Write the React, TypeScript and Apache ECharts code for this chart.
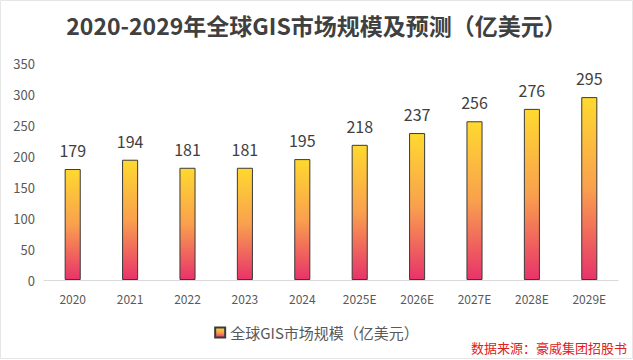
import React, { useEffect, useRef } from "react";
import * as echarts from "echarts";

const categories = ["2020", "2021", "2022", "2023", "2024", "2025E", "2026E", "2027E", "2028E", "2029E"];
const values = [179, 194, 181, 181, 195, 218, 237, 256, 276, 295];
const seriesName = "全球GIS市场规模（亿美元）";
const title = "2020-2029年全球GIS市场规模及预测（亿美元）";
const source = "数据来源：豪威集团招股书";

export default function App() {
  const ref = useRef<HTMLDivElement>(null);
  useEffect(() => {
    const chart = echarts.init(ref.current!, null, { renderer: "svg" });
    const grad = new echarts.graphic.LinearGradient(0, 0, 0, 1, [
      { offset: 0, color: "#FFD92F" },
      { offset: 0.5, color: "#F9A04E" },
      { offset: 1, color: "#E8336A" },
    ]);
    chart.setOption({
      animation: false,
      backgroundColor: "#ffffff",
      textStyle: { fontFamily: "'Noto Sans CJK SC', 'Open Sans', sans-serif" },
      title: {
        text: title,
        left: "center",
        top: 8,
        textStyle: { fontSize: 23, fontWeight: "bold", color: "#404040", fontFamily: "'Noto Sans CJK SC', sans-serif" },
      },
      legend: {
        bottom: 15,
        left: "center",
        icon: "rect",
        itemWidth: 10,
        itemHeight: 10,
        itemGap: 6,
        textStyle: { fontSize: 15, color: "#595959" },
        data: [seriesName],
      },
      grid: { left: 44, right: 15, top: 63, bottom: 80, containLabel: false },
      xAxis: {
        type: "category",
        data: categories,
        axisLine: { lineStyle: { color: "#d9d9d9", width: 1 } },
        axisTick: { show: false },
        axisLabel: { color: "#595959", fontSize: 12, margin: 12 },
      },
      yAxis: {
        type: "value",
        min: 0,
        max: 350,
        interval: 50,
        splitLine: { show: false },
        axisLine: { show: false },
        axisTick: { show: false },
        axisLabel: { color: "#595959", fontSize: 13, margin: 9 },
      },
      series: [
        {
          name: seriesName,
          type: "bar",
          data: values,
          barWidth: "28%",
          itemStyle: { color: grad, borderColor: "#3a3a3a", borderWidth: 1 },
          label: { show: true, position: "top", distance: 11, fontSize: 16, color: "#404040" },
        },
      ],
      graphic: [
        {
          type: "text",
          right: 6,
          bottom: 6,
          style: { text: source, fill: "#E02020", fontSize: 13, fontFamily: "'Noto Sans CJK SC', sans-serif" },
        },
        {
          type: "rect",
          shape: { x: 0.5, y: 0.5, width: 632, height: 358 },
          style: { fill: "none", stroke: "#e6e6e6", lineWidth: 1 },
          silent: true,
        },
      ],
    });
    return () => chart.dispose();
  }, []);
  return <div ref={ref} style={{ position: "fixed", left: 0, top: 0, width: 633, height: 360 }} />;
}
